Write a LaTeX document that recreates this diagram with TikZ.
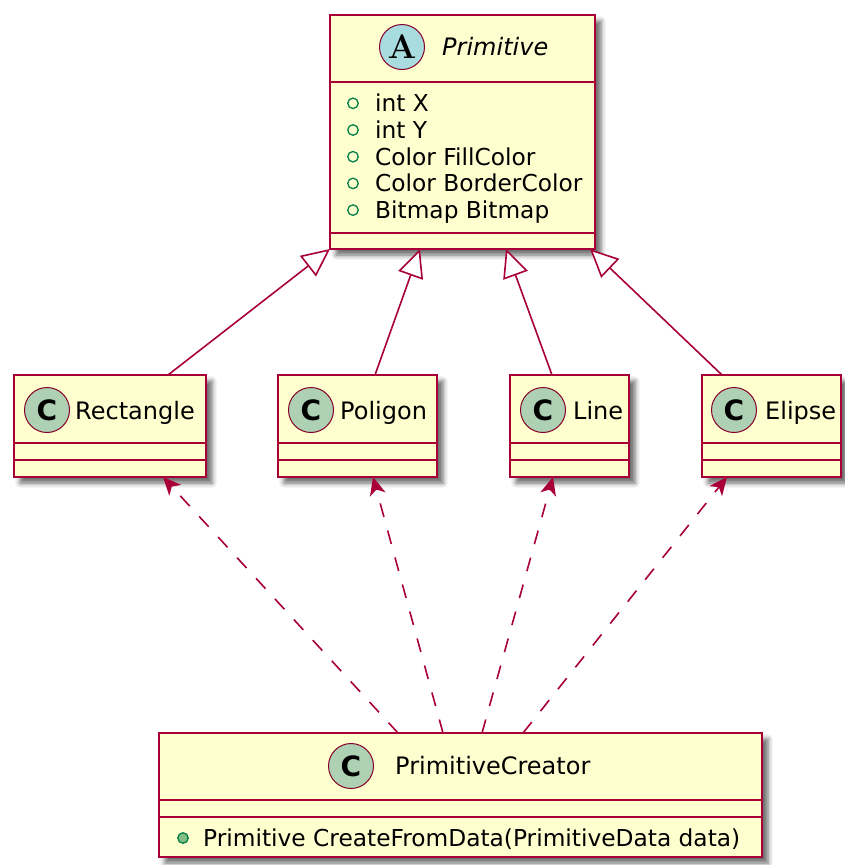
\documentclass[tikz,border=0pt]{standalone}
\usepackage{fontspec}
\setmainfont{DejaVu Sans}
\newfontfamily\spotserif{Latin Modern Roman}
\usetikzlibrary{arrows.meta,shadows.blur}

\definecolor{umlfill}{HTML}{FEFECE}
\definecolor{umlline}{HTML}{A80036}
\definecolor{spotC}{HTML}{ADD1B2}
\definecolor{spotA}{HTML}{A9DCDF}
\definecolor{pubstroke}{HTML}{038048}
\definecolor{pubfill}{HTML}{84BE84}

\tikzset{
  classbox/.style={draw=umlline, fill=umlfill, line width=2pt, inner sep=0pt,
    outer sep=0pt, rectangle,
    blur shadow={shadow xshift=6pt, shadow yshift=-6pt, shadow blur radius=5pt,
      shadow opacity=60}},
  sepline/.style={draw=umlline, line width=2pt},
  spot/.style={circle, draw=umlline!80!black, line width=1pt, minimum size=45pt,
    inner sep=0pt},
  spotc/.style={spot, fill=spotC, font=\fontsize{28}{28}\selectfont\bfseries},
  spota/.style={spot, fill=spotA, font=\fontsize{34}{34}\spotserif\bfseries},
  cname/.style={anchor=base west, inner sep=0pt, font=\fontsize{24}{28}\selectfont},
  member/.style={anchor=base west, inner sep=0pt, font=\fontsize{23.3}{26}\selectfont},
  pubfield/.style={circle, draw=pubstroke, fill=umlfill, line width=1.3pt,
    minimum size=10.5pt, inner sep=0pt},
  pubmethod/.style={circle, draw=pubstroke, fill=pubfill, line width=1.3pt,
    minimum size=10.5pt, inner sep=0pt},
  extends/.style={draw=umlline, line width=1.6pt,
    -{Triangle[length=28pt, width=26pt, fill=white]}},
  uses/.style={draw=umlline, line width=1.6pt, dash pattern=on 14pt off 14pt,
    -{Stealth[length=18pt, width=16pt, inset=5pt]}},
}

\begin{document}
\begin{tikzpicture}[x=1pt, y=-1pt]
  \useasboundingbox (0,0) rectangle (844,865);

  % ---- abstract class Primitive ----
  \node[classbox, minimum width=265pt, minimum height=234pt] (prim) at (462.5,132) {};
  \draw[sepline] (330,82) -- (595,82);
  \draw[sepline] (330,233) -- (595,233);
  \node[spota] (primspot) at (402,47) {A};
  \node[cname, font=\fontsize{24}{28}\selectfont\itshape] (primname) at (442,55.5) {Primitive};
  \foreach \i/\txt [count=\k] in {0/int X, 1/int Y, 2/Color FillColor,
      3/Color BorderColor, 4/Bitmap Bitmap} {
    \node[pubfield] (fdot\k) at (353,103.3+26.7*\i) {};
    \node[member] (field\k) at (375,111.7+26.7*\i) {\txt};
  }

  % ---- concrete classes ----
  \node[classbox, minimum width=192pt, minimum height=102pt] (rect) at (110,426) {};
  \node[classbox, minimum width=159pt, minimum height=102pt] (poly) at (357.5,426) {};
  \node[classbox, minimum width=119pt, minimum height=102pt] (line) at (569.5,426) {};
  \node[classbox, minimum width=139pt, minimum height=102pt] (elip) at (771.5,426) {};
  \foreach \l/\w in {14/192, 278/159, 510/119, 702/139} {
    \draw[sepline] (\l,443) -- ++(\w,0);
    \draw[sepline] (\l,460) -- ++(\w,0);
  }
  \node[spotc] (rectspot) at (47,410) {C};
  \node[cname] (rectname) at (75,419) {Rectangle};
  \node[spotc] (polyspot) at (311,410) {C};
  \node[cname] (polyname) at (340,419) {Poligon};
  \node[spotc] (linespot) at (543,410) {C};
  \node[cname] (linename) at (573,419) {Line};
  \node[spotc] (elipspot) at (734,410) {C};
  \node[cname] (elipname) at (765,419) {Elipse};

  % ---- PrimitiveCreator ----
  \node[classbox, minimum width=603pt, minimum height=124pt] (creator) at (460.5,795) {};
  \draw[sepline] (159,800) -- (762,800);
  \draw[sepline] (159,817) -- (762,817);
  \node[spotc] (crspot) at (351,766) {C};
  \node[cname] (crname) at (395,774) {PrimitiveCreator};
  \node[pubmethod] (mdot) at (183,838) {};
  \node[member] (method) at (203,846) {Primitive CreateFromData(PrimitiveData data)};

  % ---- generalisation ----
  \draw[extends] ([xshift=154pt]rect.north west) -- (prim.south west);
  \draw[extends] ([xshift=97pt]poly.north west) -- ([xshift=90pt]prim.south west);
  \draw[extends] ([xshift=42pt]line.north west) -- ([xshift=176pt]prim.south west);
  \draw[extends] ([xshift=20pt]elip.north west) -- ([xshift=260pt]prim.south west);

  % ---- dependencies ----
  \draw[uses] ([xshift=239pt]creator.north west) -- ([xshift=149pt]rect.south west);
  \draw[uses] ([xshift=284pt]creator.north west) -- ([xshift=95pt]poly.south west);
  \draw[uses] ([xshift=323pt]creator.north west) -- ([xshift=43pt]line.south west);
  \draw[uses] ([xshift=364pt]creator.north west) -- ([xshift=25pt]elip.south west);
\end{tikzpicture}
\end{document}
